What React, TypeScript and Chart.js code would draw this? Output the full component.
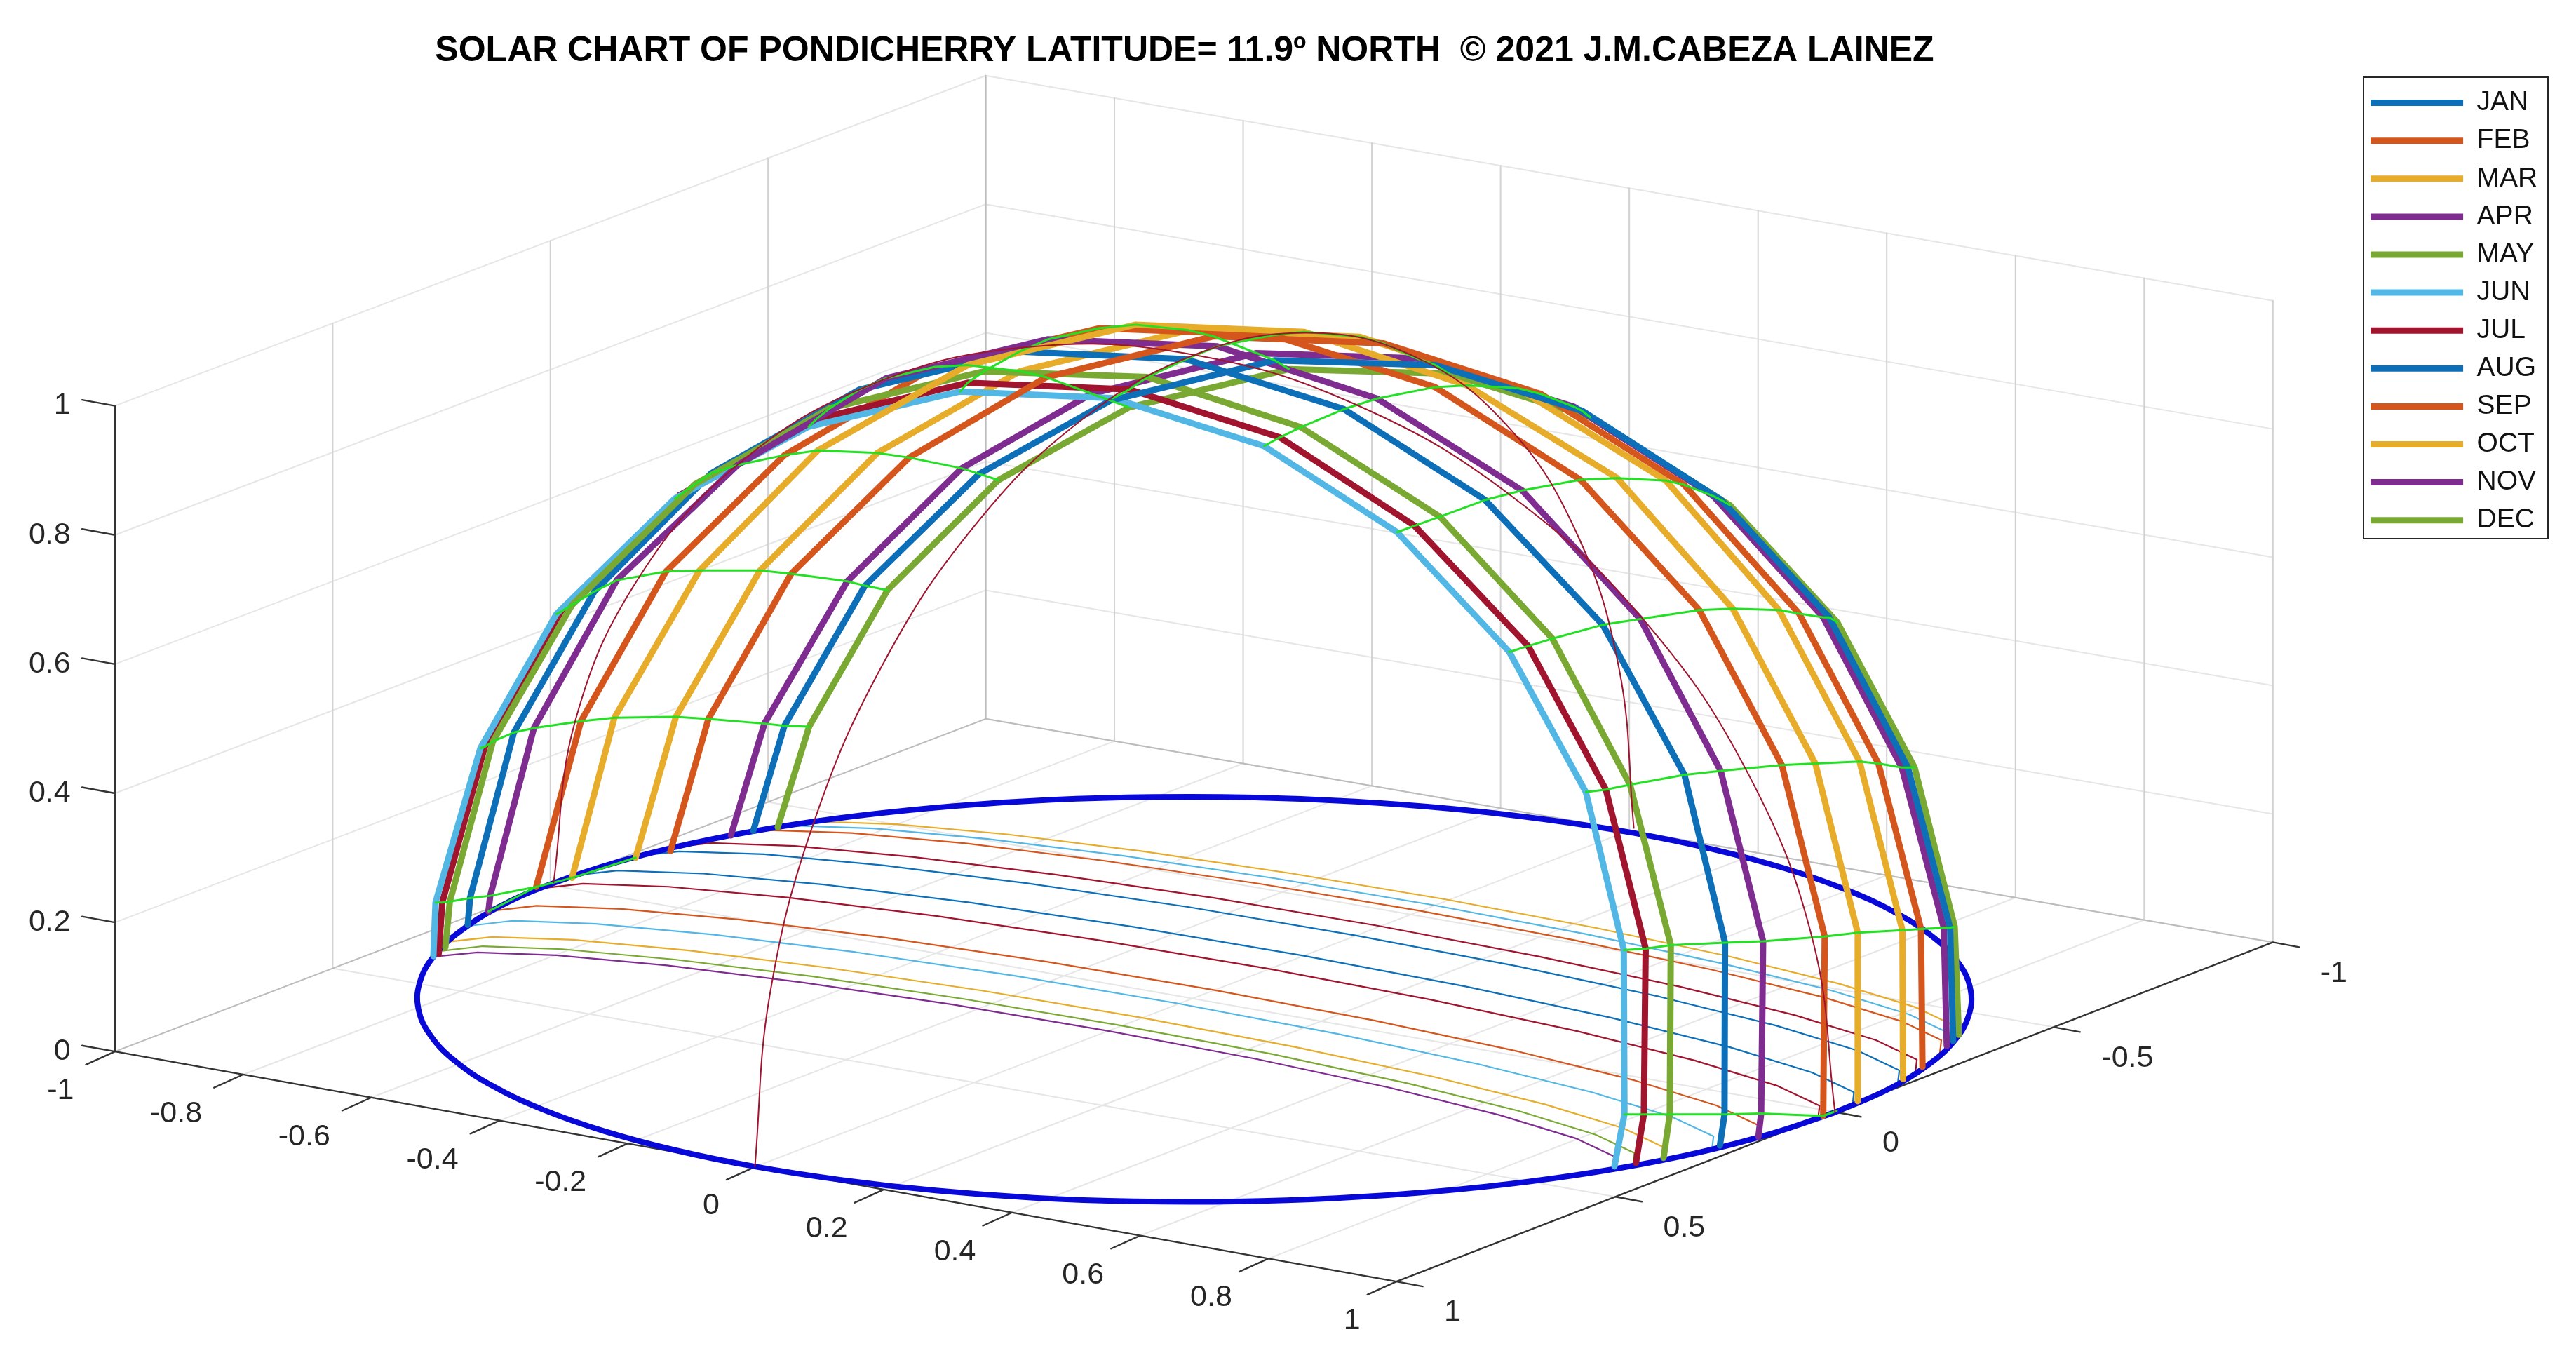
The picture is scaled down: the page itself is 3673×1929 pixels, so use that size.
import React, { useEffect, useRef } from "react";
import { Chart, registerables } from "chart.js";

Chart.register(...registerables);

type Pt = [number, number];
const FONT = '"Liberation Sans", Arial, sans-serif';
const TITLE = "SOLAR CHART OF PONDICHERRY LATITUDE= 11.9º NORTH  © 2021 J.M.CABEZA LAINEZ";

const MONTHS = ["JAN", "FEB", "MAR", "APR", "MAY", "JUN", "JUL", "AUG", "SEP", "OCT", "NOV", "DEC"];

const JUN: Pt[] = [[263.8,582],[265.1,549.3],[292.4,455.4],[338.7,373.7],[410.8,303.4],[492.2,259.7],[584.5,238.3],[677.5,242.4],[769.4,271.5],[850.4,323.9],[918.7,396.8],[965.3,482.1],[988.4,578.2],[988.8,678.2],[982.7,709.9]];
const JUL: Pt[] = [[267,580.6],[269.2,549.3],[295.1,454.5],[341.4,372.3],[413.5,301.5],[497,255],[589,233],[687.5,237],[779,266.2],[861,320],[930.2,393.2],[977.5,480.6],[1001.7,577.4],[1000.6,678.2],[995.8,707.7]];
const MAY: Pt[] = [[271.1,576.5],[273.8,548.8],[300,451.3],[348.2,368.2],[423,294.7],[505,248.5],[599,226],[698.5,229.5],[791.8,260],[876.5,314.5],[945,388.7],[992.2,477.6],[1017,575.2],[1016.4,678.2],[1012.6,704.7]];
const AUG: Pt[] = [[284.7,562.9],[286.1,546.6],[312.8,445.8],[361.8,360],[433,288],[523,237.2],[620.5,214],[721.8,218.6],[818,249],[904,304.3],[975.6,380.3],[1025.3,471.6],[1050,573.7],[1049.7,678.2],[1046.9,697.2]];
const APR: Pt[] = [[297.3,554.7],[298.4,545.2],[325,443.1],[375.4,353.2],[449,283],[539.5,230.2],[638,206.5],[741,210.8],[838.2,242.6],[926.5,298.5],[998.4,376.7],[1047.4,469.2],[1073.2,572.9],[1072,677.7],[1070.3,691.9]];
const SEP: Pt[] = [[326.4,539.8],[353.6,439],[405.4,347.8],[477.5,277],[569,223.3],[669,199.8],[774.8,204],[873.5,235.6],[962,292],[1034.4,371.3],[1084.6,465.6],[1110.7,570],[1109.8,679.2]];
const MAR: Pt[] = [[348.2,534.3],[374,436.8],[425.8,347.2],[497.7,274.2],[589,222.2],[691.3,197.6],[794,202],[893,234.6],[984.4,291],[1054.7,370.4],[1105,464.7],[1130.8,567.7],[1130.8,670.2]];
const OCT: Pt[] = [[386.9,522],[411.4,436.3],[462.6,347.2],[534,275.7],[621,225.9],[723.5,201],[827.8,205],[923.6,236.2],[1014,292.5],[1082.9,371.3],[1131.9,463.5],[1158,566.2],[1158.4,656.8]];
const FEB: Pt[] = [[408.1,518],[431.2,437.6],[481.6,349.2],[553.4,278.5],[636.8,229.6],[738.6,204.7],[842.2,209],[938,239.8],[1025,295],[1095.1,373.4],[1143.4,464.7],[1169.3,565.4],[1170.2,649.3]];
const NOV: Pt[] = [[444.9,508.4],[465.3,440.4],[515.7,353.8],[585.4,285],[664.5,239.6],[764.8,214.9],[862,218],[958,247.5],[1043,302],[1109.8,375.8],[1157.6,467.1],[1183.2,564.7],[1185,636.6]];
const JAN: Pt[] = [[458.5,505.7],[477.5,441.7],[526.5,356.5],[596.1,288.4],[675.9,243.8],[776,219.3],[873.7,222.2],[963,250],[1048,304.5],[1113.5,375.8],[1161.3,467.1],[1187,564.7],[1188.9,633.6]];
const DEC: Pt[] = [[473.4,503.5],[492.5,442.3],[540.2,359.2],[607.7,292.2],[687.2,248],[784.7,224.7],[882,227.4],[968,254],[1053,307.5],[1118.4,378.8],[1165.4,467.1],[1189.8,564],[1192.3,629.8]];

// Plan traces on the floor, one per month
const FLOOR_JUN: Pt[] = [[266,582],[290.6,579.7],[338.6,581.4],[406,587.6],[488.2,597.9],[579.7,611.4],[674.1,627.4],[765.1,644.6],[846.4,662.1],[912.6,678.6],[959,692.8],[982.6,703.9],[981.7,711.2]];
const FLOOR_JUL: Pt[] = [[268.2,578.8],[293.8,575.9],[342.4,577.7],[410.7,584],[494,594.2],[586.7,608],[682.4,624.2],[774.5,641.6],[857,659.4],[923.9,676],[971,690.5],[994.8,701.7],[994,709]];
const FLOOR_MAY: Pt[] = [[273.4,573.2],[299.5,570.3],[349,572],[418.4,578.4],[503.2,588.9],[597.6,602.9],[694.8,619.4],[788.6,637.3],[872.4,655.3],[940.6,672.2],[988.4,686.8],[1012.7,698.3],[1011.8,705.8]];
const FLOOR_AUG: Pt[] = [[285.3,563.5],[312,560.4],[362.7,562.3],[433.9,568.8],[520.8,579.5],[617.5,593.9],[717.2,610.8],[813.3,629.1],[899.2,647.5],[969.1,664.8],[1018.1,679.9],[1043,691.6],[1042.1,699.3]];
const FLOOR_APR: Pt[] = [[299.5,554.4],[326.6,551.3],[378.3,553.2],[450.6,559.7],[539,570.7],[637.2,585.3],[738.7,602.5],[836.4,621.1],[923.8,639.9],[994.8,657.5],[1044.7,672.8],[1070,684.7],[1069.1,692.6]];
const FLOOR_SEP: Pt[] = [[327.2,540.9],[354.8,537.8],[407,539.7],[480.3,546.4],[569.8,557.5],[669.3,572.3],[772.1,589.6],[871.1,608.5],[959.6,627.5],[1031.5,645.4],[1082,660.9],[1107.6,673],[1106.6,680.9]];
const FLOOR_MAR: Pt[] = [[348.4,532.9],[375.9,529.8],[428.1,531.7],[501.4,538.4],[590.9,549.4],[690.4,564.2],[793.1,581.6],[892,600.4],[980.5,619.4],[1052.4,637.2],[1102.9,652.7],[1128.5,664.8],[1127.6,672.7]];
const FLOOR_OCT: Pt[] = [[386.2,521.2],[413.3,518.2],[465,519.9],[537.2,526.6],[625.5,537.6],[723.7,552.1],[825,569.3],[922.7,587.9],[1010.1,606.6],[1081,624.2],[1130.9,639.5],[1156.1,651.4],[1155.2,659.2]];
const FLOOR_FEB: Pt[] = [[405.9,516.1],[432.8,513.1],[483.7,514.9],[555.2,521.5],[642.4,532.3],[739.5,546.6],[839.6,563.6],[936.1,582],[1022.4,600.5],[1092.6,617.9],[1141.9,633.1],[1166.8,644.9],[1165.9,652.5]];
const FLOOR_NOV: Pt[] = [[442.8,508.2],[468.9,505.3],[518.3,507],[587.8,513.3],[672.5,523.9],[766.7,537.9],[864,554.3],[957.7,572.1],[1041.5,590.1],[1109.6,606.9],[1157.5,621.6],[1181.7,633.1],[1180.8,640.6]];
const FLOOR_JAN: Pt[] = [[457.3,505.4],[483.1,502.5],[531.9,504.2],[600.3,510.5],[683.8,520.9],[776.7,534.7],[872.7,550.9],[965.1,568.5],[1047.8,586.3],[1114.9,602.9],[1162.1,617.4],[1186.1,628.7],[1185.1,636]];
const FLOOR_DEC: Pt[] = [[472.3,502.8],[497.6,500],[545.7,501.7],[613,507.8],[695.3,518.1],[786.7,531.7],[881.2,547.6],[972.1,564.9],[1053.5,582.3],[1119.6,598.8],[1166.1,613.1],[1189.6,624.2],[1188.7,631.4]];

// Horizon circle
const HORIZON: Pt[] = [[1117,677],[1078.7,689.8],[1034.5,701.3],[984.9,711.1],[930.9,719.1],[873.5,725.2],[813.7,729.3],[752.2,731.3],[690.3,731.2],[629.2,729],[569.5,724.6],[512.7,718.2],[459.5,710],[410.9,700],[367.7,688.4],[330.6,675.4],[300.3,661.2],[277.4,646.1],[262.1,630.3],[254.7,614.2],[255.5,597.9],[264.3,581.7],[281.1,566.1],[305.5,551],[337,537.5],[375.3,524.8],[419.5,513.6],[469.1,504.1],[523.1,496.4],[580.5,490.6],[640.3,486.8],[701.8,485.1],[763.7,485.4],[824.8,487.8],[884.5,492.3],[941.3,498.8],[994.5,507],[1043.1,517],[1086.3,528.5],[1123.4,541.4],[1153.7,555.4],[1176.6,570.3],[1191.9,585.8],[1199.3,601.6],[1198.5,617.6],[1189.7,633.4],[1172.9,648.7],[1148.5,663.4],[1117,677]];

// The two thin meridian arcs
const MERIDIAN_A: Pt[] = [[459.5,710],[468.6,605.3],[495.3,500.7],[537.9,403.3],[593.3,319.9],[657.8,256],[727,216],[796.2,202.6],[860.8,216.9],[916.1,257.7],[958.7,322.3],[985.4,406.3],[994.5,504]];
const MERIDIAN_B: Pt[] = [[337,537],[350.3,438.2],[389.3,350.9],[451.2,281],[532,233.4],[626.1,211.2],[727,216],[827.9,247.4],[922,303.4],[1002.8,380],[1064.7,472.1],[1103.7,573.4],[1117,677]];

// Axis ticks and labels
const X_TICKS = [-1, -0.8, -0.6, -0.4, -0.2, 0, 0.2, 0.4, 0.6, 0.8, 1];
const Y_TICKS = [-1, -0.5, 0, 0.5, 1];
const Z_TICKS = [0, 0.2, 0.4, 0.6, 0.8, 1];

// Floor corners of the axes box and its height there
const CORNER_A: Pt = [70, 640];
const CORNER_B: Pt = [850, 780];
const CORNER_C: Pt = [600, 437.5];
const CORNER_R: Pt = [1383.5, 573.5];
const HEIGHTS = { A: 393, B: 390, C: 391.5, R: 390.5 };

const PATHS: Record<string, Pt[]> = { JAN, FEB, MAR, APR, MAY, JUN, JUL, AUG, SEP, OCT, NOV, DEC };
const BLUE = "#0C6FB8", ORANGE = "#D4561D", YELLOW = "#E6AC2A", PURPLE = "#7E2C90", GREEN = "#79A932", SKY = "#52B7E5", RED = "#A0142E";
const MONTH_COLOR: Record<string, string> = { JAN: BLUE, FEB: ORANGE, MAR: YELLOW, APR: PURPLE, MAY: GREEN, JUN: SKY, JUL: RED, AUG: BLUE, SEP: ORANGE, OCT: YELLOW, NOV: PURPLE, DEC: GREEN };

// Floor traces with their line colours, front to back
const FLOORS: [Pt[], string][] = [
  [FLOOR_JUN, PURPLE], [FLOOR_JUL, GREEN], [FLOOR_MAY, YELLOW], [FLOOR_AUG, SKY], [FLOOR_APR, ORANGE], [FLOOR_SEP, RED],
  [FLOOR_MAR, BLUE], [FLOOR_OCT, BLUE], [FLOOR_FEB, RED], [FLOOR_NOV, ORANGE], [FLOOR_JAN, SKY], [FLOOR_DEC, YELLOW],
];
// Paths in order of declination: the bright green hour lines join their vertices
const BY_DECL = [JUN, JUL, MAY, AUG, APR, SEP, MAR, OCT, FEB, NOV, JAN, DEC];

const SX = 3673 / 1568;
const TITLE_H = 98;
const Y_TOP = TITLE_H / SX;
const Y_BOTTOM = 1929 / SX;

const project = (x: number, y: number, z: number): Pt => {
  const u = (x + 1) / 2, v = (y + 1) / 2;
  const w = (a: number, b: number, c: number, r: number) => (1 - u) * (1 - v) * c + u * (1 - v) * r + (1 - u) * v * a + u * v * b;
  const h = w(HEIGHTS.A, HEIGHTS.B, HEIGHTS.C, HEIGHTS.R);
  return [w(CORNER_A[0], CORNER_B[0], CORNER_C[0], CORNER_R[0]), w(CORNER_A[1], CORNER_B[1], CORNER_C[1], CORNER_R[1]) - z * h];
};

const toXY = (p: Pt[]) => p.map(([x, y]) => ({ x, y }));
const segments = (list: Pt[][]) => {
  const out: { x: number; y: number }[] = [];
  list.forEach((s) => {
    s.forEach(([x, y]) => out.push({ x, y }));
    out.push({ x: NaN, y: NaN });
  });
  return out;
};

const line = (label: string, data: { x: number; y: number }[], color: string, width: number, order: number, tension = 0) => ({
  label, data, borderColor: color, backgroundColor: color, borderWidth: width, order, tension,
  showLine: true, fill: false, pointRadius: 0, pointHoverRadius: 0, spanGaps: false, borderJoinStyle: "round" as const, borderCapStyle: "round" as const, clip: false as const,
});

const greenRows = (): Pt[][] => {
  const rows: Pt[][] = [];
  // sunrise and sunset rows reach only the five long paths and the equinox base
  rows.push([...BY_DECL.slice(0, 5).map((p) => p[1]), SEP[0]]);
  rows.push([...BY_DECL.slice(0, 5).map((p) => p[13]), SEP[12], [1118, 676]]);
  rows.push([APR[0], SEP[0], MAR[0], OCT[0]]);
  for (let i = 1; i <= 11; i++) rows.push(BY_DECL.map((p) => (p.length === 15 ? p[i + 1] : p[i])));
  return rows;
};

const verticalSegments = (): Pt[][] => {
  const s: Pt[][] = [];
  X_TICKS.forEach((x) => s.push([project(x, -1, 0), project(x, -1, 1)]));
  Y_TICKS.forEach((y) => s.push([project(-1, y, 0), project(-1, y, 1)]));
  return s;
};

const gridSegments = (): Pt[][] => {
  const s: Pt[][] = [];
  X_TICKS.forEach((x) => s.push([project(x, -1, 0), project(x, 1, 0)]));
  Y_TICKS.forEach((y) => s.push([project(-1, y, 0), project(1, y, 0)]));
  Z_TICKS.forEach((z) => {
    s.push([project(-1, 1, z), project(-1, -1, z)]);
    s.push([project(-1, -1, z), project(1, -1, z)]);
  });
  return s;
};

const edgeSegments = (): Pt[][] => [
  [project(-1, -1, 0), project(-1, -1, 1)],
  [project(-1, 1, 0), project(-1, -1, 0)],
  [project(-1, -1, 0), project(1, -1, 0)],
];

const axisSegments = (): Pt[][] => {
  const s: Pt[][] = [[project(-1, 1, 0), project(1, 1, 0)], [project(1, 1, 0), project(1, -1, 0)], [project(-1, 1, 0), project(-1, 1, 1)]];
  X_TICKS.forEach((x) => { const p = project(x, 1, 0); s.push([p, [p[0] - 17.7, p[1] + 8]]); });
  Y_TICKS.forEach((y) => { const p = project(1, y, 0); s.push([p, [p[0] + 16, p[1] + 3]]); });
  Z_TICKS.forEach((z) => { const p = project(-1, 1, z); s.push([p, [p[0] - 20, p[1] - 3.6]]); });
  return s;
};

const placeBoxes = {
  id: "placeBoxes",
  afterLayout(chart: any) {
    const l = chart.legend;
    if (l) { l.left = 3365; l.right = 3640; l.top = 112; l.bottom = 800; l.width = 275; l.height = 688; }
    const t = chart.titleBlock;
    if (t) { t.left = 0; t.right = 3378; t.width = 3378; }
  },
};

const axisText = {
  id: "axisText",
  afterDraw(chart: any) {
    const { ctx, scales } = chart;
    const px = (p: Pt): Pt => [scales.x.getPixelForValue(p[0]), scales.y.getPixelForValue(p[1])];
    ctx.save();
    ctx.fillStyle = "#262626";
    ctx.font = `43px ${FONT}`;
    ctx.textBaseline = "middle";
    ctx.textAlign = "right";
    X_TICKS.forEach((x) => {
      const p = project(x, 1, 0);
      const [a, b] = px([p[0] - (x < 0 ? 25 : 22), p[1] + 24]);
      ctx.fillText(String(x), a, b);
    });
    ctx.textAlign = "left";
    Y_TICKS.forEach((y) => {
      const p = project(1, y, 0);
      const [a, b] = px([p[0] + 29, p[1] + 19]);
      ctx.fillText(String(y), a, b);
    });
    ctx.textAlign = "right";
    Z_TICKS.forEach((z) => {
      const p = project(-1, 1, z);
      const [a, b] = px([p[0] - 27, p[1]]);
      ctx.fillText(String(z), a, b);
    });
    // legend frame
    ctx.strokeStyle = "#262626";
    ctx.lineWidth = 2;
    ctx.strokeRect(3370, 110, 263, 658);
    ctx.restore();
  },
};

export default function App() {
  const ref = useRef<HTMLCanvasElement>(null);
  useEffect(() => {
    if (!ref.current) return;
    const datasets: any[] = [
      ...MONTHS.map((m, i) => line(m, toXY(PATHS[m]), MONTH_COLOR[m], 9, i + 2)),
      line("Meridian x", toXY(MERIDIAN_A), RED, 2, 0, 0.4),
      line("Meridian y", toXY(MERIDIAN_B), RED, 2, 0, 0.4),
      line("Hour lines", segments(greenRows()), "#22E022", 3, 1),
      line("Horizon", toXY(HORIZON), "#0808D8", 8, 14, 0.4),
      ...FLOORS.map(([p, c], i) => line(`Floor ${i + 1}`, toXY(p), c, 2.2, 15)),
      line("Axes", segments(axisSegments()), "#333333", 2.4, 16),
      line("Box edges", segments(edgeSegments()), "#bcbcbc", 2, 17),
      line("Wall verticals", segments(verticalSegments()), "#d2d2d2", 2, 18),
      line("Grid", segments(gridSegments()), "#e6e6e6", 2, 19),
    ];
    const chart = new Chart(ref.current, {
      type: "scatter",
      data: { datasets },
      plugins: [placeBoxes, axisText],
      options: {
        animation: false,
        responsive: false,
        devicePixelRatio: 1,
        layout: { padding: 0 },
        events: [],
        scales: {
          x: { type: "linear", display: false, min: 0, max: 1568 },
          y: { type: "linear", display: false, min: Y_TOP, max: Y_BOTTOM, reverse: true },
        },
        plugins: {
          tooltip: { enabled: false },
          title: {
            display: true,
            text: TITLE,
            color: "#000000",
            align: "center",
            font: { family: FONT, size: 50, weight: "bold", lineHeight: 1 },
            padding: { top: 48, bottom: 0 },
          },
          legend: {
            display: true,
            position: "chartArea",
            align: "start",
            labels: {
              font: { family: FONT, size: 39 },
              color: "#111111",
              padding: 15.1,
              usePointStyle: true,
              pointStyle: "line",
              pointStyleWidth: 132,
              filter: (item: any) => item.datasetIndex < 12,
            },
          },
        },
      } as any,
    });
    return () => chart.destroy();
  }, []);
  return (
    <div style={{ position: "absolute", left: 0, top: 0, width: 3673, height: 1929, background: "#ffffff", overflow: "hidden" }}>
      <canvas ref={ref} width={3673} height={1929} style={{ display: "block" }} />
    </div>
  );
}
